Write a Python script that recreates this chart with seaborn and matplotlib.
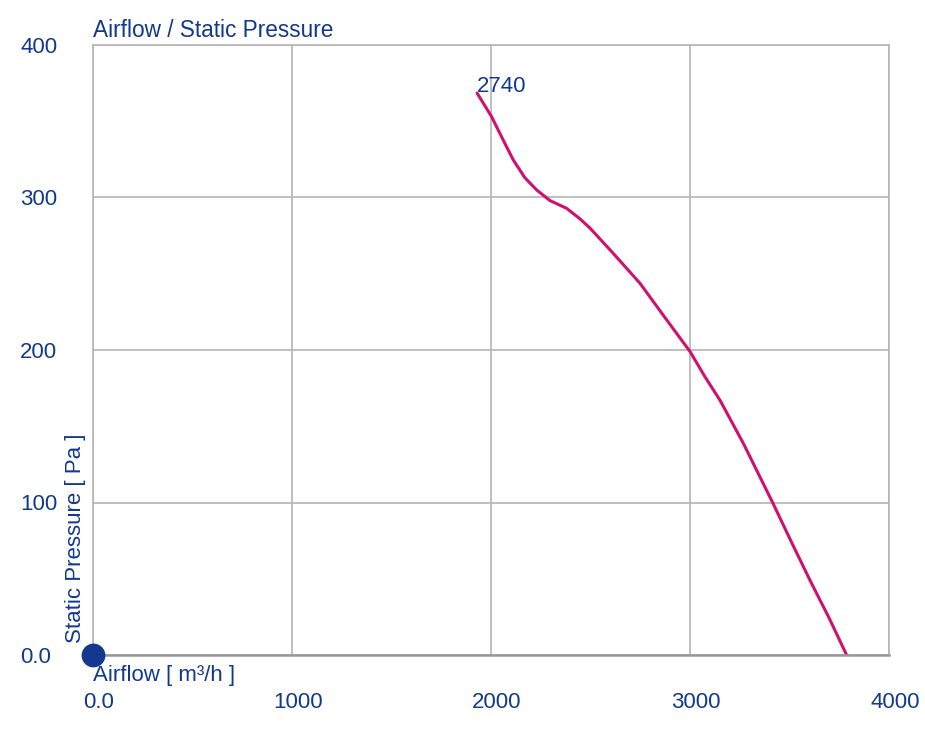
import pandas as pd
import numpy as np
import matplotlib
matplotlib.use("Agg")
import matplotlib.pyplot as plt
import matplotlib.transforms as mtransforms
import seaborn as sns

# fan curve (airflow m3/h, static pressure Pa)
airflow = [1930, 2003, 2060, 2112, 2170, 2229, 2296, 2380, 2447, 2497, 2614, 2749,
           2883, 3000, 3075, 3151, 3268, 3340, 3417, 3510, 3603, 3700, 3787]
pressure = [368.5, 353, 338, 324.6, 313, 305, 298, 292.9, 286, 280, 263.4, 243.7,
            219.7, 199, 182.5, 167, 138.8, 119.8, 99.5, 74, 49, 24, 0]
speed_label = "2740"
x_ticks = [0, 1000, 2000, 3000, 4000]
x_tick_labels = ["0.0", "1000", "2000", "3000", "4000"]
y_ticks = [0, 100, 200, 300, 400]
y_tick_labels = ["0.0", "100", "200", "300", "400"]

navy = "#12398f"
curve_color = "#d01070"
grid_color = "#b4b4b4"

sns.set_style("white")
plt.rcParams["font.family"] = ["Liberation Sans", "DejaVu Sans"]

df = pd.DataFrame({"Airflow": airflow, "Pressure": pressure})

fig = plt.figure(figsize=(9.25, 7.31), dpi=100)
ax = fig.add_axes([93 / 925, 1 - 655 / 731, (889 - 93) / 925, (655 - 45) / 731])

sns.lineplot(x="Airflow", y="Pressure", data=df, ax=ax, color=curve_color,
             linewidth=2.2, sort=False, estimator=None)
ax.scatter([0], [0], s=260, color=navy, zorder=5, clip_on=False)

ax.set_xlim(0, 4000)
ax.set_ylim(0, 400)
ax.set_xticks(x_ticks)
ax.set_xticklabels(x_tick_labels)
ax.set_yticks(y_ticks)
ax.set_yticklabels(y_tick_labels, ha="left")
ax.tick_params(axis="both", length=0, labelsize=16, labelcolor=navy)
ax.tick_params(axis="x", pad=26.5)
ax.tick_params(axis="y", pad=52.5)
shift = mtransforms.ScaledTranslation(6 / 100, 0, fig.dpi_scale_trans)
for lab in ax.get_xticklabels():
    lab.set_transform(lab.get_transform() + shift)
ax.grid(True, color=grid_color, linewidth=1.2)
for s in ax.spines.values():
    s.set_color(grid_color)
    s.set_linewidth(1.2)
ax.spines["bottom"].set_color("#999999")
ax.spines["bottom"].set_linewidth(1.8)
ax.set_xlabel("")
ax.set_ylabel("")

ax.text(0, 1.0123, "Airflow / Static Pressure", transform=ax.transAxes,
        ha="left", va="baseline", fontsize=16.3, color=navy)
ax.text(0, -0.0426, "Airflow [ m³/h ]", transform=ax.transAxes,
        ha="left", va="baseline", fontsize=16, color=navy)
ax.text(-0.0088, 0.0197, "Static Pressure [ Pa ]", transform=ax.transAxes,
        ha="right", va="bottom", rotation=90, fontsize=16, color=navy)
ax.text(airflow[0], pressure[0] + 1, speed_label, ha="left", va="baseline",
        fontsize=16, color=navy)

fig.savefig("out.png", dpi=100, facecolor="white")
